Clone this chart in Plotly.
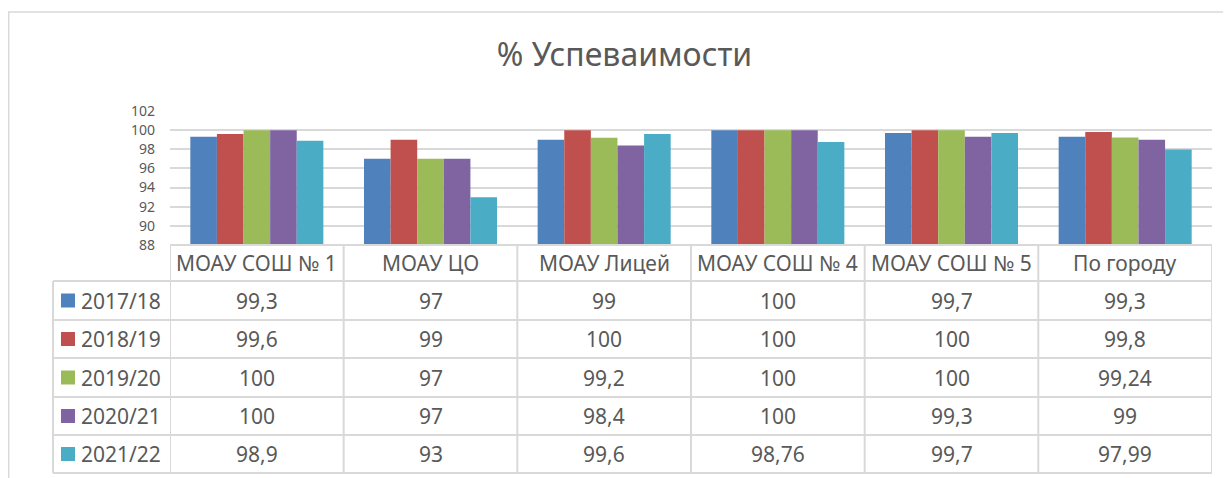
import plotly.graph_objects as go

categories = ["МОАУ СОШ № 1", "МОАУ ЦО", "МОАУ Лицей", "МОАУ СОШ № 4", "МОАУ СОШ № 5", "По городу"]
series_names = ["2017/18", "2018/19", "2019/20", "2020/21", "2021/22"]
v_2017 = [99.3, 97, 99, 100, 99.7, 99.3]
v_2018 = [99.6, 99, 100, 100, 100, 99.8]
v_2019 = [100, 97, 99.2, 100, 100, 99.24]
v_2020 = [100, 97, 98.4, 100, 99.3, 99]
v_2021 = [98.9, 93, 99.6, 98.76, 99.7, 97.99]
series_values = [v_2017, v_2018, v_2019, v_2020, v_2021]
colors = ["#4F81BD", "#C0504D", "#9BBB59", "#8064A2", "#4BACC6"]
y_ticks = [88, 90, 92, 94, 96, 98, 100, 102]

OFF = 8                    # page body margin
W, H = 1231 - OFF, 478 - OFF
L, R = 170 - OFF, 1212 - OFF     # plot area in figure px
T, B = 111 - OFF, 473 - OFF
PW, PH = R - L, B - T
FONT = "Noto Sans"
GRAY = "#595959"
LINE = "#D9D9D9"


def px(x):  # reference px -> paper
    return (x - OFF - L) / PW


def py(y):
    return (B - (y - OFF)) / PH


bars_bottom = 245
row_edges = [245, 281, 320, 358, 397, 435, 473]


def fmt(v):
    return ("%g" % v).replace(".", ",")


fig = go.Figure()
for name, vals, c in zip(series_names, series_values, colors):
    fig.add_trace(go.Bar(x=list(range(len(categories))), y=vals, name=name,
                         marker=dict(color=c, line=dict(width=0))))

shapes = []
annotations = []

# chart frame
shapes.append(dict(type="rect", xref="paper", yref="paper",
                   x0=px(8.7), x1=px(1260), y0=py(500), y1=py(12),
                   line=dict(color=LINE, width=1.5), fillcolor="rgba(0,0,0,0)", layer="below"))

# table horizontal lines
for i, yy in enumerate(row_edges):
    x0 = px(170) if i == 0 else px(53)
    shapes.append(dict(type="line", xref="paper", yref="paper",
                       x0=x0, x1=px(1212), y0=py(yy), y1=py(yy),
                       line=dict(color=LINE, width=2)))
# table vertical lines at category boundaries
for k in range(len(categories) + 1):
    shapes.append(dict(type="line", xref="x", yref="paper",
                       x0=k - 0.5, x1=k - 0.5, y0=py(row_edges[-1]), y1=py(row_edges[0]),
                       line=dict(color=LINE, width=2)))
shapes.append(dict(type="line", xref="paper", yref="paper",
                   x0=px(53), x1=px(53), y0=py(row_edges[-1]), y1=py(row_edges[1]),
                   line=dict(color=LINE, width=2)))

TXT = dict(family=FONT, size=21, color=GRAY)
# header text
hc = (row_edges[0] + row_edges[1]) / 2
for k, cat in enumerate(categories):
    annotations.append(dict(x=k, y=py(hc), xref="x", yref="paper", text=cat,
                            xanchor="center", yanchor="middle",
                            showarrow=False, font=TXT))
# rows
for r, (name, vals, c) in enumerate(zip(series_names, series_values, colors)):
    yc = (row_edges[r + 1] + row_edges[r + 2]) / 2
    shapes.append(dict(type="rect", xref="paper", yref="paper",
                       x0=px(61), x1=px(75), y0=py(yc + 7), y1=py(yc - 7),
                       fillcolor=c, line=dict(width=0)))
    annotations.append(dict(x=px(79), y=py(yc), xref="paper", yref="paper", text=name,
                            xanchor="left", yanchor="middle", showarrow=False, font=TXT))
    for k, v in enumerate(vals):
        annotations.append(dict(x=k, y=py(yc), xref="x", yref="paper", text=fmt(v),
                                xanchor="center", yanchor="middle",
                                showarrow=False, font=TXT))

fig.update_layout(
    width=W, height=H,
    margin=dict(l=L, r=W - R, t=T, b=H - B, pad=0, autoexpand=False),
    paper_bgcolor="white", plot_bgcolor="white",
    barmode="group", bargap=0.234, bargroupgap=0,
    showlegend=False,
    title=dict(text="% Успеваимости", x=(624.5 - OFF) / W, xref="container", xanchor="center",
               y=1 - (55 - OFF) / H, yref="container", yanchor="middle",
               font=dict(family=FONT, size=32, color=GRAY)),
    xaxis=dict(range=[-0.5, len(categories) - 0.5], showticklabels=False, showgrid=False,
               zeroline=False, showline=False, fixedrange=True),
    yaxis=dict(domain=[py(bars_bottom), 1], range=[88, 102], tickvals=y_ticks,
               showgrid=True, gridcolor=LINE, gridwidth=1.5, zeroline=False, showline=False,
               ticks="", ticklabelstandoff=14,
               tickfont=dict(family=FONT, size=14, color=GRAY)),
    shapes=shapes, annotations=annotations,
    font=dict(family=FONT, color=GRAY),
)

fig.write_html("out.html")
